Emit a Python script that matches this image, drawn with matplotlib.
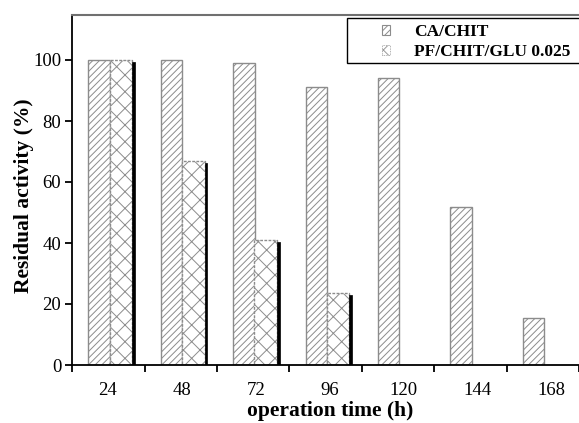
import matplotlib
matplotlib.use("Agg")
import matplotlib.pyplot as plt
from matplotlib.patches import Rectangle, Patch
import numpy as np

categories = ["24", "48", "72", "96", "120", "144", "168"]
ca_chit = [100, 100, 99, 91, 94, 51.7, 15.5]
pf_chit_glu = [100, 67, 41, 23.6]
pf_shadow = [99.5, 66.3, 40.2, 23.0]
series_names = ["CA/CHIT", "PF/CHIT/GLU 0.025"]
yticks = [0, 20, 40, 60, 80, 100]

plt.rcParams['font.family'] = ['Liberation Serif', 'DejaVu Serif']
plt.rcParams['hatch.linewidth'] = 0.7

W, H = 579, 423
fig = plt.figure(figsize=(W / 100, H / 100), dpi=100)
left_px, top_px, bottom_px = 72.3, 15, 365
group_px = 73.6
ax = fig.add_axes([left_px / W, (H - bottom_px) / H, (W - left_px) / W, (bottom_px - top_px) / H])

x = np.arange(len(categories))
gray = '#8c8c8c'
ax.bar(x - 0.13, ca_chit, width=0.295, facecolor='white', edgecolor=gray,
       hatch='/////', linewidth=1.0, zorder=2)
xp = np.arange(len(pf_chit_glu))
ax.bar(xp + 0.172, pf_chit_glu, width=0.31, facecolor='white', edgecolor=gray,
       hatch='xx', linewidth=1.0, linestyle=(0, (2, 1)), zorder=2)
ax.bar(xp + 0.345, pf_shadow, width=0.035, facecolor='black', edgecolor='black',
       linewidth=0.5, zorder=3)

ax.set_xlim(-0.5, -0.5 + (W - left_px) / group_px)
ax.set_ylim(0, (bottom_px - top_px) / 3.05)

ax.spines['right'].set_visible(False)
ax.spines['top'].set_color('#707070')
ax.spines['top'].set_linewidth(1.5)
ax.spines['left'].set_linewidth(1.3)
ax.spines['bottom'].set_linewidth(1.3)

ax.set_xticks(np.arange(len(categories) + 1) - 0.5)
ax.set_xticklabels([])
ax.set_xticks(np.arange(len(categories)) * 1.022 - 0.01, minor=True)
ax.set_xticklabels(categories, minor=True, fontsize=13.5)
ax.tick_params(axis='x', which='major', direction='out', length=5, width=1.3)
ax.tick_params(axis='x', which='minor', length=0, pad=12)
ax.set_yticks(yticks)
ax.set_yticklabels([str(v) for v in yticks], fontsize=13.5)
ax.tick_params(axis='y', direction='out', length=5, width=1.3, pad=3)

fig.text(330 / W, 1 - 411 / H, "operation time (h)", ha='center', va='center',
         fontsize=15.5, fontweight='bold')
fig.text(24 / W, 1 - 196 / H, "Residual activity (%)", ha='center', va='center',
         rotation=90, fontsize=15.5, fontweight='bold')

# legend frame (extends past right edge as in reference)
frame = Rectangle((347 / W, 1 - 63 / H), (620 - 347) / W, 45 / H,
                  transform=fig.transFigure, facecolor='white', edgecolor='black',
                  linewidth=1.0, zorder=5, clip_on=False)
fig.patches.append(frame)
handles = [Patch(facecolor='white', edgecolor=gray, hatch='/////', linewidth=0.8),
           Patch(facecolor='white', edgecolor='#999999', hatch='xx', linewidth=0.6,
                 linestyle=(0, (1, 1)))]
leg = fig.legend(handles, series_names, loc='center left',
                 bbox_to_anchor=(366 / W, 1 - 42 / H), frameon=False,
                 handlelength=0.5, handleheight=0.5, handletextpad=1.35,
                 labelspacing=0.2, prop={'weight': 'bold', 'size': 12.5})
leg.set_zorder(6)

fig.savefig("out.png", dpi=100)
